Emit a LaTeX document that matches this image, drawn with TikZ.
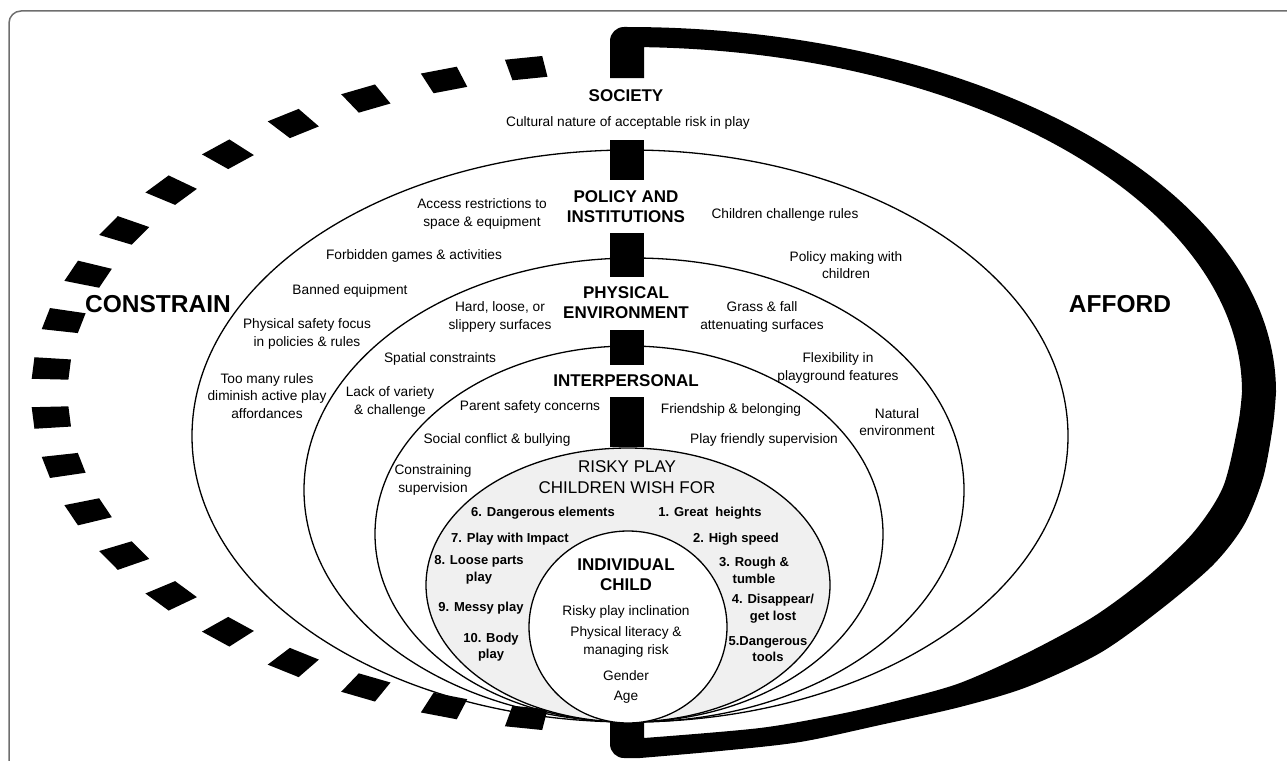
\documentclass[tikz,border=0pt]{standalone}
\usepackage{fontspec}
\setmainfont{Liberation Sans}
\definecolor{wishgray}{RGB}{240,240,240}
\definecolor{framegray}{RGB}{110,110,110}

\begin{document}
\begin{tikzpicture}[x=1pt,y=-1pt,
    every node/.append style={inner sep=0pt},
    ring/.style={draw=black,line width=1.3pt},
    bar/.style={fill=black},
    txt/.style={font=\fontsize{13.7}{17.5}\selectfont,align=center},
    head/.style={font=\fontsize{17}{20}\selectfont\bfseries,align=center},
    wish/.style={font=\fontsize{17}{21.7}\selectfont,align=center},
    item/.style={font=\fontsize{13}{16.7}\selectfont\bfseries,align=center},
    big/.style={font=\fontsize{24.5}{28}\selectfont\bfseries}]
    \useasboundingbox (0,0) rectangle (1287,760);
    \clip (0,0) rectangle (1287,760);
    \draw [framegray,line width=1.5pt,rounded corners=12] (9,11) rectangle (1320,800);
    \begin{scope}[shift={(627,393)},xscale=1.75]
        \foreach \i in {0,...,19} {
            \pgfmathsetmacro\t{100+\i*160/19}
            \fill [black] ({\t-1.82}:319.5) -- ({\t+1.82}:319.5) -- ({\t+1.82}:340.5) -- ({\t-1.82}:340.5) -- cycle;
        }
    \end{scope}
    \fill [bar] (610,78) -- (610,41) arc [start angle=180,end angle=270,radius=14] -- (627,27)
        arc [start angle=-90,end angle=0,x radius=649,y radius=365]
        -- plot [smooth] coordinates {(1276,392) (1273,425) (1263,478) (1244,525) (1213,565) (1160,610) (1100,653) (1027,687) (960,707) (880,725) (800,742) (720,751) (640,758)}
        -- (624,758) arc [start angle=90,end angle=180,radius=14] -- (610,722) -- (644,722) -- (644,738)
        -- plot [smooth] coordinates {(644,738) (760,728) (840,714) (900,700) (960,683) (1027,653) (1093,617) (1147,577) (1193,533) (1223,487) (1238,425) (1242,392)}
        arc [start angle=0,end angle=-88.4,x radius=615,y radius=345] -- (644,78) -- cycle;
    \draw [ring] (630,436) ellipse [x radius=438,y radius=286];
    \draw [ring] (634,490) ellipse [x radius=330,y radius=232];
    \draw [ring] (629,534) ellipse [x radius=254,y radius=188];
    \draw [ring,fill=wishgray] (628,585) ellipse [x radius=202,y radius=137];
    \draw [ring,fill=white] (628,627) ellipse [x radius=99,y radius=96];
    \fill [bar] (610,140) rectangle (644,180);
    \fill [bar] (610,233) rectangle (644,277);
    \fill [bar] (610,330) rectangle (644,365);
    \fill [bar] (610,397) rectangle (644,447);
    \node [head] (society) at (626,96) {SOCIETY};
    \node [txt] (culture) at (628,123) {Cultural nature of acceptable risk in play};
    \node [head] (policy) at (626,207) {POLICY AND\\INSTITUTIONS};
    \node [txt] (access) at (482,214) {Access restrictions to\\space \& equipment};
    \node [txt] (challenge) at (785,215) {Children challenge rules};
    \node [txt] (forbidden) at (414,256) {Forbidden games \& activities};
    \node [txt] (making) at (846,265) {Policy making with\\children};
    \node [txt] (banned) at (350,291) {Banned equipment};
    \node [big] (constrain) at (158,304) {CONSTRAIN};
    \node [big] (afford) at (1120,304) {AFFORD};
    \node [head] (physical) at (626,303) {PHYSICAL\\ENVIRONMENT};
    \node [txt] (hard) at (500,317) {Hard, loose, or\\slippery surfaces};
    \node [txt] (grass) at (762,317) {Grass \& fall\\attenuating surfaces};
    \node [txt] (safety) at (307,334) {Physical safety focus\\in policies \& rules};
    \node [txt] (spatial) at (440,359) {Spatial constraints};
    \node [txt] (flexible) at (838,368) {Flexibility in\\playground features};
    \node [txt] (rules) at (267,396) {Too many rules\\diminish active play\\affordances};
    \node [head] (interpersonal) at (626,381) {INTERPERSONAL};
    \node [txt] (variety) at (390,402) {Lack of variety\\\& challenge};
    \node [txt] (parent) at (530,407) {Parent safety concerns};
    \node [txt] (friend) at (731,410) {Friendship \& belonging};
    \node [txt] (natural) at (897,422) {Natural\\environment};
    \node [txt] (conflict) at (497,440) {Social conflict \& bullying};
    \node [txt] (friendly) at (764,440) {Play friendly supervision};
    \node [txt] (constraining) at (433,480) {Constraining\\supervision};
    \node [wish] (risky) at (627,477) {RISKY PLAY\\CHILDREN WISH FOR};
    \node [item] (w6) at (543,513) {6. Dangerous elements};
    \node [item] (w1) at (710,513) {1. Great~ heights};
    \node [item] (w7) at (510,539) {7. Play with Impact};
    \node [item] (w2) at (736,539) {2. High speed};
    \node [item] (w8) at (479,570) {8. Loose parts\\play};
    \node [item] (w3) at (754,570) {3. Rough \&\\tumble};
    \node [head] (child) at (626,575) {INDIVIDUAL\\CHILD};
    \node [item] (w9) at (481,608) {9. Messy play};
    \node [item] (w4) at (773,609) {4. Disappear/\\get lost};
    \node [txt] (inclination) at (626,612) {Risky play inclination};
    \node [item] (w10) at (491,647) {10. Body\\play};
    \node [txt] (literacy) at (626,642) {Physical literacy \&\\managing risk};
    \node [item] (w5) at (768,649) {5.Dangerous\\tools};
    \node [txt] (gender) at (626,676) {Gender};
    \node [txt] (age) at (626,697) {Age};
\end{tikzpicture}
\end{document}
